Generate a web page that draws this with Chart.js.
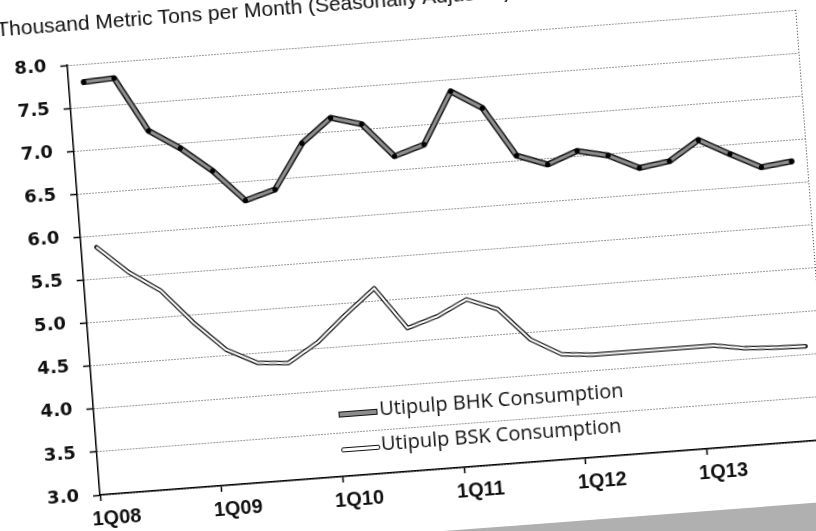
<!DOCTYPE html>
<html>
<head>
<meta charset="utf-8">
<script src="https://cdn.jsdelivr.net/npm/chart.js@4.4.0/dist/chart.umd.min.js"></script>
<style>
html, body { margin: 0; padding: 0; background: #fff; overflow: hidden; width: 816px; height: 531px; }
#wrap { position: absolute; left: 0; top: 0; width: 850px; height: 560px; }
#wrap canvas { position: absolute; left: 0; top: 0; }
.title { position: absolute; font: 21px "Liberation Sans", Arial, sans-serif; line-height: 21px; white-space: nowrap; color: #111; }
.leg { position: absolute; font: 20px "Open Sans", sans-serif; line-height: 20px; white-space: nowrap; color: #111; }
.sw { position: absolute; width: 39px; box-sizing: border-box; border: 1.5px solid #111; }
.paper { position: absolute; background: #b0b0b0; }
</style>
</head>
<body>
<div id="wrap">
  <div class="paper" id="paper"></div>
  <canvas id="chart" width="850" height="560"></canvas>
  <div class="title" id="title">Thousand Metric Tons per Month (Seasonally Adjusted)</div>
  <div class="sw" id="swBhk" style="height:6px;background:#8c8c8c;"></div>
  <div class="leg" id="legBhk">Utipulp BHK Consumption</div>
  <div class="sw" id="swBsk" style="height:5px;background:#fff;border-radius:2px;"></div>
  <div class="leg" id="legBsk">Utipulp BSK Consumption</div>
</div>
<script>
const quarters = ['1Q08','2Q08','3Q08','4Q08','1Q09','2Q09','3Q09','4Q09',
                  '1Q10','2Q10','3Q10','4Q10','1Q11','2Q11','3Q11','4Q11',
                  '1Q12','2Q12','3Q12','4Q12','1Q13','2Q13','3Q13','4Q13'];
const bhk = [7.79, 7.81, 7.17, 6.94, 6.65, 6.28, 6.38, 6.89, 7.16, 7.06, 6.66, 6.77,
             7.36, 7.14, 6.56, 6.43, 6.56, 6.48, 6.31, 6.36, 6.58, 6.39, 6.21, 6.25];
const bsk = [5.87, 5.55, 5.31, 4.91, 4.57, 4.39, 4.36, 4.57, 4.87, 5.15, 4.66, 4.77,
             4.94, 4.80, 4.42, 4.22, 4.19, 4.19, 4.19, 4.19, 4.19, 4.13, 4.11, 4.10];

const chart = new Chart("chart", {
    type: "line",
    data: {
        labels: quarters,
        datasets: [{
            label: "Utipulp BHK Consumption",
            data: bhk,
            borderColor: "#8e8e8e",
            borderWidth: 3,
            pointRadius: 2.6,
            pointBackgroundColor: "#000",
            pointBorderWidth: 0,
            borderJoinStyle: "round",
            order: 0,
        }, {
            label: "Utipulp BSK Consumption",
            data: bsk,
            borderColor: "#fff",
            borderWidth: 2,
            pointRadius: 0,
            borderJoinStyle: "round",
            order: 0,
        }, {
            label: "bhk outline",
            data: bhk,
            borderColor: "#1a1a1a",
            borderWidth: 6,
            pointRadius: 0,
            borderJoinStyle: "round",
            borderCapStyle: "round",
            order: 1,
        }, {
            label: "bsk outline",
            data: bsk,
            borderColor: "#1a1a1a",
            borderWidth: 4.5,
            pointRadius: 0,
            borderJoinStyle: "round",
            borderCapStyle: "round",
            order: 1,
        }]
    },
    options: {
        responsive: false,
        devicePixelRatio: 1,
        animation: false,
        layout: { padding: { top: 70, right: 50, left: 0, bottom: 0 } },
        plugins: { legend: { display: false }, tooltip: { enabled: false } },
        scales: {
            x: {
                offset: true,
                grid: {
                    offset: true,
                    color: c => c.index === undefined ? "#333" : "rgba(0,0,0,0)",
                    tickColor: c => (c.index % 4 === 0) ? "#000" : "rgba(0,0,0,0)",
                    tickLength: 6,
                    tickWidth: 1.5,
                },
                border: { color: "#000", width: 1.5, dash: [1, 2] },
                ticks: {
                    autoSkip: false, maxRotation: 0, minRotation: 0, padding: 6,
                    color: "#111",
                    font: { family: '"Liberation Sans", Arial, sans-serif', size: 20, weight: "bold" },
                    callback: function (v) {
                        const l = this.getLabelForValue(v);
                        return l.startsWith("1Q") ? l : "";
                    },
                },
                afterFit: s => { s.height = 59; },
            },
            y: {
                min: 3, max: 8,
                ticks: {
                    stepSize: 0.5, padding: 14, color: "#111",
                    font: { family: '"DejaVu Sans", sans-serif', size: 18, weight: "bold" },
                    callback: v => v.toFixed(1),
                },
                grid: { color: "#333", lineWidth: 1, tickColor: "#000", tickLength: 7, tickWidth: 1.5 },
                border: { color: "#000", width: 1.5, dash: [1, 2] },
                afterFit: s => { s.width = 70; },
            },
        },
    },
});

// tilt the whole thing like the scan, pinned at the axis origin
const a = chart.chartArea;
const ox = a.left, oy = a.bottom;
const wrap = document.getElementById("wrap");
wrap.style.left = (100 - ox) + "px";
wrap.style.top = (495 - oy) + "px";
wrap.style.transformOrigin = ox + "px " + oy + "px";
wrap.style.transform = "rotate(-4.35deg)";

function place(id, x, y) {
    const el = document.getElementById(id);
    el.style.left = (ox + x) + "px";
    el.style.top = (oy + y) + "px";
}
place("title", -68, -483);
place("swBhk", 243.5, -65);
place("legBhk", 285, -74.6);
place("swBsk", 244, -29.3);
place("legBsk", 284, -39.6);
const paper = document.getElementById("paper");
place("paper", 300, 61.5);
paper.style.width = "700px";
paper.style.height = "120px";
</script>
</body>
</html>
